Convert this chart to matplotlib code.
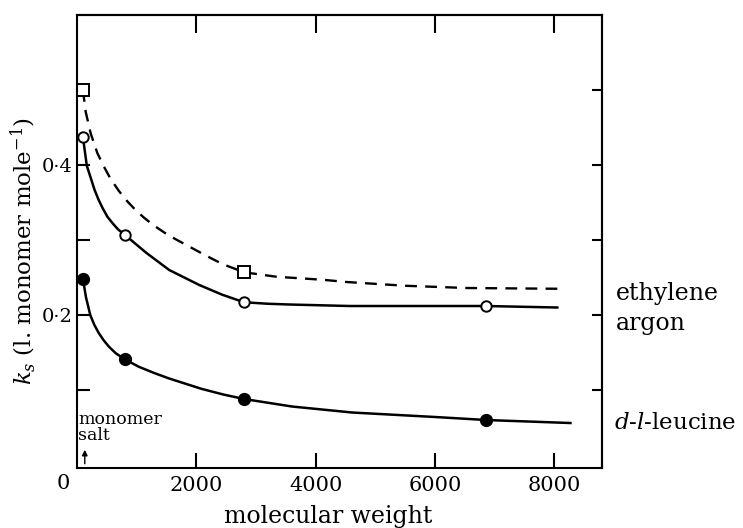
import matplotlib
matplotlib.use('Agg')
import matplotlib.pyplot as plt

plt.rcParams['font.family'] = ['DejaVu Serif']
plt.rcParams['mathtext.fontset'] = 'dejavuserif'

# measured points
eth_x = [100, 2800]
eth_y = [0.500, 0.257]
arg_x = [100, 800, 2800, 6860]
arg_y = [0.437, 0.307, 0.217, 0.212]
leu_x = [100, 800, 2800, 6860]
leu_y = [0.248, 0.141, 0.088, 0.060]

# hand-drawn curves
eth_cx = [100, 146, 230, 341, 437, 560, 706, 850, 969, 1120, 1277, 1500, 1700, 1910, 2167, 2436, 2800,
          3343, 4116, 4519, 5500, 6535, 8050]
eth_cy = [0.500, 0.471, 0.442, 0.416, 0.400, 0.382, 0.365, 0.351, 0.341, 0.330, 0.320, 0.308, 0.299, 0.290,
          0.279, 0.268, 0.257, 0.251, 0.247, 0.244, 0.239, 0.236, 0.235]
arg_cx = [100, 165, 230, 294, 360, 433, 510, 601, 690, 800, 1160, 1546, 2050, 2436, 2800, 3200, 3562,
          4570, 5700, 6860, 8050]
arg_cy = [0.437, 0.399, 0.383, 0.367, 0.354, 0.342, 0.331, 0.322, 0.314, 0.307, 0.283, 0.260, 0.240,
          0.227, 0.217, 0.215, 0.214, 0.212, 0.212, 0.212, 0.210]
leu_cx = [100, 150, 223, 290, 365, 450, 533, 650, 800, 1036, 1300, 1540, 1755, 2090, 2453, 2800, 3604,
          4612, 6006, 6860, 8270]
leu_cy = [0.248, 0.224, 0.200, 0.187, 0.176, 0.166, 0.158, 0.149, 0.141, 0.131, 0.1225, 0.1155, 0.110,
          0.1015, 0.094, 0.088, 0.078, 0.070, 0.064, 0.060, 0.056]

xticks = [2000, 4000, 6000, 8000]
yticks = [0.1, 0.2, 0.3, 0.4, 0.5]
ylabels = {0.2: '0·2', 0.4: '0·4'}
monomer_mw = 131

fig = plt.figure(figsize=(7.43, 5.28), dpi=100)
ax = fig.add_axes([0.1036, 0.1136, 0.7067, 0.858])

ax.plot(eth_cx, eth_cy, color='black', lw=1.7, ls=(0, (5, 3.5)))
ax.plot(arg_cx, arg_cy, color='black', lw=1.8)
ax.plot(leu_cx, leu_cy, color='black', lw=1.8)

ax.plot(eth_x, eth_y, 's', ms=8.5, mfc='white', mec='black', mew=1.4)
ax.plot(arg_x, arg_y, 'o', ms=7.5, mfc='white', mec='black', mew=1.4)
ax.plot(leu_x, leu_y, 'o', ms=8.5, mfc='black', mec='black')

ax.set_xlim(0, 8800)
ax.set_ylim(-0.004, 0.6)

for s in ax.spines.values():
    s.set_linewidth(1.5)

ax.set_xticks(xticks)
ax.set_xticklabels([str(t) for t in xticks])
ax.set_yticks(yticks)
ax.set_yticklabels([ylabels.get(t, '') for t in yticks])
ax.tick_params(axis='x', direction='in', length=11, width=1.5, labelsize=15, pad=6)
ax.tick_params(axis='y', direction='in', length=9, width=1.5, labelsize=14, pad=3)

top = ax.secondary_xaxis('top')
top.set_xticks(xticks)
top.set_xticklabels([])
top.tick_params(direction='in', length=13, width=1.5)
top.spines['top'].set_linewidth(1.5)
right = ax.secondary_yaxis('right')
right.set_yticks(yticks)
right.set_yticklabels([])
right.tick_params(direction='in', length=7, width=1.5)
right.spines['right'].set_linewidth(1.5)

ax.text(-120, -0.012, '0', ha='right', va='top', fontsize=15, transform=ax.transData)

ax.set_xlabel('molecular weight', fontsize=17)
ax.xaxis.set_label_coords(0.478, -0.082)
ax.set_ylabel(r'$k_s$ (l. monomer mole$^{-1}$)', fontsize=16.5)
ax.yaxis.set_label_coords(-0.075, 0.48)

ax.text(20, 0.072, 'monomer\nsalt', fontsize=12.5, ha='left', va='top', linespacing=0.9)
ax.annotate('', xy=(monomer_mw, 0.024), xytext=(monomer_mw, -0.002),
            arrowprops=dict(arrowstyle='-|>', color='black', lw=1.0, mutation_scale=8))

fig.text(0.829, 0.445, 'ethylene', fontsize=17, ha='left', va='center')
fig.text(0.829, 0.388, 'argon', fontsize=17, ha='left', va='center')
fig.text(0.826, 0.199, r'$d$-$l$-leucine', fontsize=16.5, ha='left', va='center')

fig.savefig('out.png', dpi=100)
